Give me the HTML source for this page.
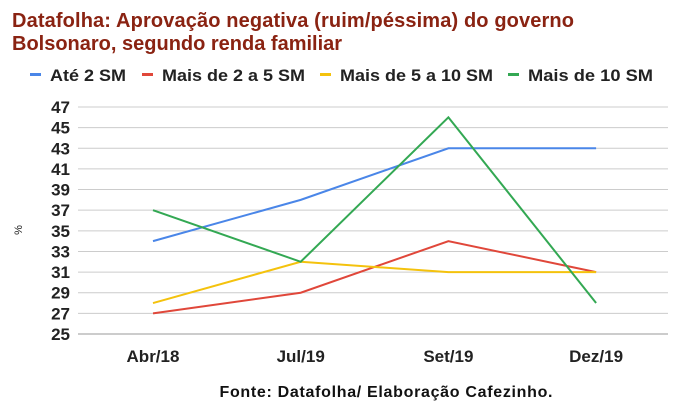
<!DOCTYPE html>
<html><head><meta charset="utf-8"><style>
body{margin:0;background:#fff;width:674px;height:413px;overflow:hidden;font-family:"Liberation Sans",Arial,sans-serif}
</style></head><body>
<svg width="674" height="413" xmlns="http://www.w3.org/2000/svg" font-family="Liberation Sans, Arial, sans-serif">
<text x="12" y="27" font-size="20" font-weight="bold" fill="#8a2312" textLength="562">Datafolha: Aprovação negativa (ruim/péssima) do governo</text>
<text x="12" y="50" font-size="20" font-weight="bold" fill="#8a2312">Bolsonaro, segundo renda familiar</text>
<g id="legend" font-size="17" font-weight="bold" fill="#222"></g>
<g id="grid"></g>
<g id="yticks" font-size="17" font-weight="bold" fill="#222" text-anchor="end"></g>
<g id="xticks" font-size="17" font-weight="bold" fill="#222" text-anchor="middle"></g>
<g id="series"></g>
<text x="22" y="230" font-size="11" fill="#222" transform="rotate(-90 22 230)" text-anchor="middle">%</text>
<text x="386" y="397" font-size="16" font-weight="bold" fill="#111" text-anchor="middle" textLength="333">Fonte: Datafolha/ Elaboração Cafezinho.</text>
</svg>
<script>
const categories=["Abr/18","Jul/19","Set/19","Dez/19"];
const seriesNames=["Até 2 SM","Mais de 2 a 5 SM","Mais de 5 a 10 SM","Mais de 10 SM"];
const ate2=[34,38,43,43];
const de2a5=[27,29,34,31];
const de5a10=[28,32,31,31];
const mais10=[37,32,46,28];
const yTicks=[25,27,29,31,33,35,37,39,41,43,45,47];
const colors=["#4a86e8","#e0473a","#f4c20d","#33a853"];
const NS="http://www.w3.org/2000/svg";
const y=v=>334-(v-25)*(334-107)/22;
const x=i=>153+i*147.7;
function mk(t,a,p){const e=document.createElementNS(NS,t);for(const k in a)e.setAttribute(k,a[k]);p.appendChild(e);return e;}
const grid=document.getElementById('grid'),yt=document.getElementById('yticks'),xt=document.getElementById('xticks'),sg=document.getElementById('series'),lg=document.getElementById('legend');
yTicks.forEach(v=>{
 const l=mk('line',{x1:78,x2:668,y1:y(v),y2:y(v),stroke:v===25?'#999':'#ccc','stroke-width':1},grid);
 
 
 const t=mk('text',{x:70,y:y(v)+6},yt);t.textContent=v;
 
 
});
categories.forEach((c,i)=>{
 const t=mk('text',{x:x(i),y:362},xt);t.textContent=c;
 
 
});
[ate2,de2a5,de5a10,mais10].forEach((d,s)=>{
 const p=mk('polyline',{points:d.map((v,i)=>x(i)+','+y(v)).join(' '),fill:'none',stroke:colors[s],'stroke-width':2},sg);
 
 
});
const lx=[30,142,320,508];
const tw=[76,143,153,125];
seriesNames.forEach((n,s)=>{
 const r=mk('rect',{x:lx[s],y:73,width:11,height:3,fill:colors[s]},lg);
 
 
 const t=mk('text',{x:lx[s]+20,y:81,textLength:tw[s],lengthAdjust:'spacingAndGlyphs'},lg);t.textContent=n;
 
 
});
</script>
</body></html>
